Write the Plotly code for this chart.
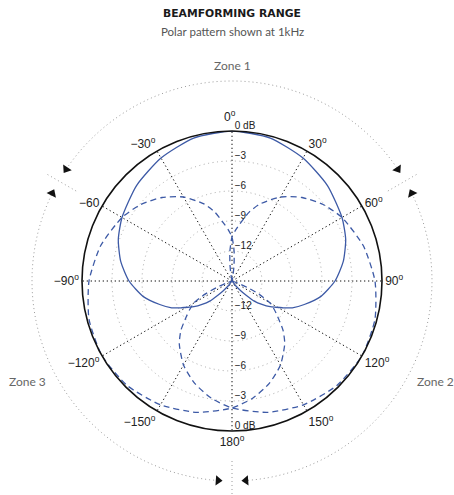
import plotly.graph_objects as go

# ---------------- data ----------------
# front (solid) beam: angle offset from the beam axis (deg) -> level (dB)
solid_offset = [0, 15, 30, 45, 60, 70, 80, 90, 100, 108, 114, 118, 121, 124,
                128, 132, 135, 138, 143, 150]
solid_db = [0, -0.2, -0.8, -1.5, -2.3, -2.9, -3.7, -4.7, -6.0, -7.4, -8.4,
            -9.3, -9.9, -10.4, -11.2, -12.0, -13.0, -13.7, -14.5, -15]

# side (dashed) beams: angle offset from the beam axis (deg) -> level (dB)
dashed_offset = [0, 15, 30, 45, 60, 70, 80, 90, 100, 106, 112, 116, 120, 124,
                 127, 130, 134, 150]
dashed_db = [0, -0.2, -0.7, -1.4, -2.3, -3.1, -4.1, -5.3, -6.8, -7.9, -9.2,
             -9.9, -10.6, -12.0, -13.3, -14.4, -15, -15]

# beam axes
solid_axis = 0
dashed_axes = [120, -120]

# radial rings (dB) and their labels
ring_values = [-12, -9, -6, -3, 0]
ring_labels = ["\u00a0\u221212", "\u00a0\u22129", "\u00a0\u22126", "\u00a0\u22123", "\u00a00 dB"]

# angular ticks (the 0 deg label is placed separately, above the 0 dB label)
angle_ticks = [0, 30, 60, 90, 120, 150, 180, 210, 240, 270, 300, 330]
angle_labels = ["", "30<sup>o</sup>", "60<sup>o</sup>", "90<sup>o</sup>",
                "120<sup>o</sup>", "150<sup>o</sup>", "180<sup>o</sup>",
                "\u2212150<sup>o</sup>", "\u2212120<sup>o</sup>", "\u221290<sup>o</sup>",
                "\u221260", "\u221230<sup>o</sup>"]
top_label = "0<sup>o</sup>"

# zones
zone_names = ["Zone 1", "Zone 2", "Zone 3"]
zone_centers = [0, 120, -120]
zone_bounds = [60, 180, -60]

R_MIN, R_MAX = -15, 0
BLUE = "#3d5aa6"
GRAY = "#9a9a9a"


def mirror(offsets, values):
    th = [-a for a in reversed(offsets)] + offsets[1:]
    r = list(reversed(values)) + values[1:]
    return th, r


# ---------------- figure ----------------
fig = go.Figure()

s_th, s_r = mirror(solid_offset, solid_db)
fig.add_trace(go.Scatterpolar(
    r=s_r, theta=[t + solid_axis for t in s_th], mode="lines",
    line=dict(color=BLUE, width=1.3, shape="spline", smoothing=0.6),
    subplot="polar", hoverinfo="skip", showlegend=False))

d_th, d_r = mirror(dashed_offset, dashed_db)
for ax in dashed_axes:
    fig.add_trace(go.Scatterpolar(
        r=d_r, theta=[t + ax for t in d_th], mode="lines",
        line=dict(color=BLUE, width=1.3, dash="6px,4px", shape="spline", smoothing=0.6),
        subplot="polar", hoverinfo="skip", showlegend=False))

# ring labels on the vertical axis (top and bottom)
for th in (0, 180):
    fig.add_trace(go.Scatterpolar(
        r=ring_values, theta=[th] * len(ring_values), mode="text",
        text=ring_labels, textposition="top right",
        textfont=dict(family="Liberation Sans, Arial", size=10, color="#222"),
        subplot="polar", cliponaxis=False, hoverinfo="skip", showlegend=False))

# ---- zones on an outer, larger polar frame ----
ARC_R = 1.0


def arc(a0, a1, n=90):
    return [a0 + (a1 - a0) * i / n for i in range(n + 1)]


gap = 4
for c in zone_centers:
    a0, a1 = c - 60 + gap, c + 60 - gap
    th = arc(a0, a1)
    fig.add_trace(go.Scatterpolar(
        r=[ARC_R] * len(th), theta=th, mode="lines",
        line=dict(color=GRAY, width=1, dash="1px,3px"), subplot="polar2",
        hoverinfo="skip", showlegend=False))
    # arrowheads pointing to the zone boundaries
    fig.add_trace(go.Scatterpolar(
        r=[ARC_R, ARC_R], theta=[a0, a1], mode="markers",
        marker=dict(symbol="triangle-up", size=9, color="#111",
                    angle=[a0 - 90, a1 + 90]),
        subplot="polar2", cliponaxis=False, hoverinfo="skip", showlegend=False))

for b in zone_bounds:
    fig.add_trace(go.Scatterpolar(
        r=[0.9, 1.07], theta=[b, b], mode="lines",
        line=dict(color=GRAY, width=1, dash="1px,3px"), subplot="polar2",
        hoverinfo="skip", showlegend=False))

W, H = 454, 495
cx, cy, R1, R2 = 232, 281, 150, 214

zone_label_xy = [(232, 66), (435, 381), (27, 381)]
zone_annots = [dict(text=n, x=x / W, y=1 - y / H, xref="paper", yref="paper",
                    showarrow=False, xanchor="center", yanchor="middle",
                    font=dict(family="Lato, Open Sans", size=12, color="#666"))
               for n, (x, y) in zip(zone_names, zone_label_xy)]

fig.update_layout(
    width=W, height=H, margin=dict(l=0, r=0, t=0, b=0),
    paper_bgcolor="white", plot_bgcolor="white", showlegend=False,
    polar=dict(
        domain=dict(x=[(cx - R1) / W, (cx + R1) / W],
                    y=[(H - cy - R1) / H, (H - cy + R1) / H]),
        bgcolor="rgba(0,0,0,0)",
        angularaxis=dict(rotation=90, direction="clockwise",
                         tickmode="array", tickvals=angle_ticks, ticktext=angle_labels,
                         ticks="", showline=True, linecolor="#111", linewidth=1.6,
                         showgrid=True, gridcolor="#111", gridwidth=1.3, griddash="1.3px,2.7px",
                         tickfont=dict(family="Liberation Sans, Arial", size=12, color="#222")),
        radialaxis=dict(range=[R_MIN, R_MAX], tickmode="array", tickvals=ring_values[:-1],
                        showticklabels=False, ticks="", showline=False,
                        showgrid=True, gridcolor="#a8a8a8", gridwidth=1, griddash="1px,3.5px"),
    ),
    polar2=dict(
        domain=dict(x=[(cx - R2) / W, (cx + R2) / W],
                    y=[max(0, (H - cy - R2) / H), (H - cy + R2) / H]),
        bgcolor="rgba(0,0,0,0)",
        angularaxis=dict(rotation=90, direction="clockwise", visible=False),
        radialaxis=dict(range=[0, 1.07], visible=False),
    ),
    annotations=[
        dict(text="<b>BEAMFORMING RANGE</b>", x=cx / W, y=1 - 14 / H, xref="paper", yref="paper",
             showarrow=False, xanchor="center", yanchor="middle",
             font=dict(family="DejaVu Sans", size=10.8, color="#1a1a1a")),
        dict(text="Polar pattern shown at 1kHz", x=cx / W, y=1 - 32 / H, xref="paper", yref="paper",
             showarrow=False, xanchor="center", yanchor="middle",
             font=dict(family="Lato, Open Sans", size=11.5, color="#555")),
        dict(text=top_label, x=(cx - 2) / W, y=1 - 116 / H, xref="paper", yref="paper",
             showarrow=False, xanchor="center", yanchor="middle",
             font=dict(family="Liberation Sans, Arial", size=12, color="#222")),
    ] + zone_annots,
)

fig.write_html("out.html", config={"displayModeBar": False},
               post_script="document.body.style.margin='0px';")
